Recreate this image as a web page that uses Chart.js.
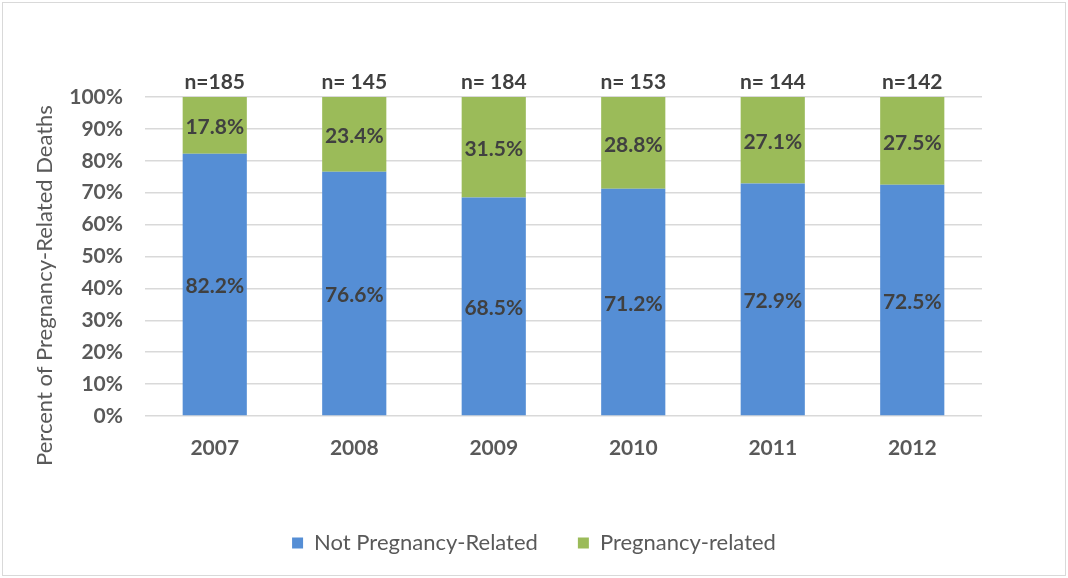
<!DOCTYPE html>
<html>
<head>
<meta charset="utf-8">
<script src="https://cdn.jsdelivr.net/npm/chart.js@4/dist/chart.umd.min.js"></script>
<style>
  html, body { margin: 0; padding: 0; background: #ffffff; }
  #wrap { width: 1068px; height: 578px; }
</style>
</head>
<body>
<div id="wrap"><canvas id="c" width="1068" height="578"></canvas></div>
<script>
const years = ['2007', '2008', '2009', '2010', '2011', '2012'];
const notPregnancyRelated = [82.2, 76.6, 68.5, 71.2, 72.9, 72.5];
const pregnancyRelated = [17.8, 23.4, 31.5, 28.8, 27.1, 27.5];
const nLabels = ['n=185', 'n= 145', 'n= 184', 'n= 153', 'n= 144', 'n=142'];
const seriesNames = ['Not Pregnancy-Related', 'Pregnancy-related'];
const yTitle = 'Percent of Pregnancy-Related Deaths';

const FONT = 'Lato, "Open Sans", sans-serif';

const borderPlugin = {
  id: 'frame',
  beforeDraw(chart) {
    const ctx = chart.ctx;
    ctx.save();
    ctx.fillStyle = '#ffffff';
    ctx.fillRect(0, 0, chart.width, chart.height);
    ctx.strokeStyle = '#d9d9d9';
    ctx.lineWidth = 1;
    ctx.strokeRect(2.5, 2.5, chart.width - 5, chart.height - 5);
    ctx.restore();
  },
  afterDraw(chart) {
    const ctx = chart.ctx;
    const a = chart.chartArea;
    ctx.save();
    ctx.translate(45, (a.top + a.bottom) / 2 + 29);
    ctx.rotate(-Math.PI / 2);
    ctx.font = '22px ' + FONT;
    ctx.fillStyle = '#595959';
    ctx.textAlign = 'center';
    ctx.textBaseline = 'middle';
    ctx.fillText(yTitle, 0, 0);
    ctx.restore();
  }
};

const labelPlugin = {
  id: 'labels',
  afterDatasetsDraw(chart) {
    const ctx = chart.ctx;
    ctx.save();
    ctx.font = 'bold 21px ' + FONT;
    ctx.fillStyle = '#404040';
    ctx.textAlign = 'center';
    ctx.textBaseline = 'middle';
    chart.data.datasets.forEach((ds, di) => {
      const meta = chart.getDatasetMeta(di);
      meta.data.forEach((bar, i) => {
        const p = bar.getCenterPoint();
        ctx.fillText(ds.data[i].toFixed(1) + '%', p.x, p.y + 2);
      });
    });
    const yScale = chart.scales.y;
    const top = yScale.getPixelForValue(100);
    const meta0 = chart.getDatasetMeta(0);
    meta0.data.forEach((bar, i) => {
      ctx.fillText(nLabels[i], bar.x, top - 15);
    });
    ctx.restore();
  }
};

new Chart(document.getElementById('c'), {
  type: 'bar',
  data: {
    labels: years,
    datasets: [
      { label: seriesNames[0], data: notPregnancyRelated, backgroundColor: '#558ED5', borderWidth: 0 },
      { label: seriesNames[1], data: pregnancyRelated, backgroundColor: '#9BBB59', borderWidth: 0 }
    ]
  },
  options: {
    responsive: false,
    animation: false,
    devicePixelRatio: 1,
    layout: { padding: { top: 97, left: 0, right: 0, bottom: 14 } },
    datasets: { bar: { barPercentage: 0.46, categoryPercentage: 1.0 } },
    plugins: {
      legend: {
        position: 'bottom',
        labels: {
          font: { family: FONT, size: 22 },
          color: '#595959',
          boxWidth: 11,
          boxHeight: 11,
          padding: 40
        }
      },
      tooltip: { enabled: false }
    },
    scales: {
      x: {
        stacked: true,
        grid: { display: false, drawTicks: false },
        border: { display: false },
        ticks: { font: { family: FONT, size: 21, weight: 'bold' }, color: '#595959', padding: 20 },
        afterFit(s) { s.height = 76; }
      },
      y: {
        stacked: true,
        min: 0,
        max: 100,
        ticks: {
          stepSize: 10,
          callback: v => v + '%',
          font: { family: FONT, size: 21, weight: 'bold' },
          color: '#595959',
          padding: 22
        },
        grid: { color: '#d9d9d9', lineWidth: 1.5, drawTicks: false },
        border: { display: false },
        afterFit(s) { s.width = 145; }
      },
      yRight: {
        position: 'right',
        display: true,
        grid: { display: false, drawTicks: false },
        border: { display: false },
        ticks: { display: false },
        afterFit(s) { s.width = 86; }
      }
    }
  },
  plugins: [borderPlugin, labelPlugin]
});
</script>
</body>
</html>
